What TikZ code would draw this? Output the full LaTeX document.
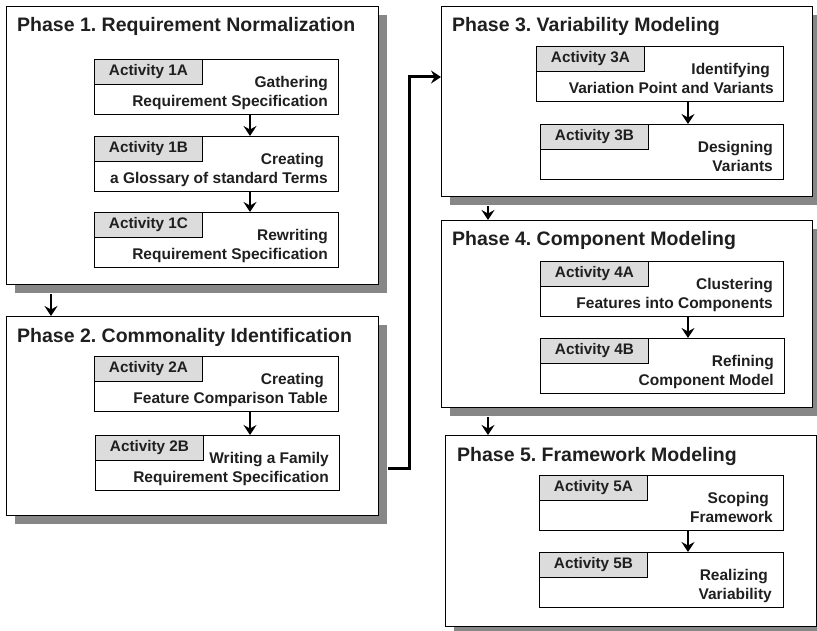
\documentclass[tikz,border=0pt]{standalone}
\usepackage{fontspec}
\setmainfont{Liberation Sans}
\frenchspacing
\usetikzlibrary{arrows.meta,shadows}
\definecolor{shadowgray}{RGB}{135,135,135}
\definecolor{tabgray}{RGB}{220,220,220}
\tikzset{
  phase/.style={draw, line width=1.3pt, fill=white, anchor=north west, inner sep=0,
    drop shadow={shadow xshift=8pt, shadow yshift=-8pt, fill=shadowgray, opacity=1}},
  phasetitle/.style={anchor=base west, inner sep=0, font=\fontsize{19.5}{22}\selectfont\bfseries, text=black!88},
  actbox/.style={draw, line width=1pt, fill=white, anchor=north west, inner sep=0,
    minimum width=244pt, minimum height=55pt},
  acttab/.style={draw, line width=1pt, fill=tabgray, anchor=north west, inner sep=0,
    minimum width=108pt, minimum height=25pt, font=\fontsize{15.3}{18}\selectfont\bfseries, text=black!88},
  acttext/.style={anchor=north east, inner sep=0, align=right,
    font=\fontsize{15.5}{19}\selectfont\bfseries, text=black!88},
  flow/.style={line width=2.6pt, -{Stealth[length=10pt,width=13pt,inset=3.5pt]}},
  longflow/.style={line width=3pt, -{Stealth[length=10pt,width=13pt,inset=3.5pt]}}
}
\begin{document}
\begin{tikzpicture}[x=1pt,y=-1pt]
\useasboundingbox (0,0) rectangle (817,631);
% phases
\node[phase, minimum width=372pt, minimum height=278pt] (p1) at (6,6) {};
\node[phase, minimum width=372pt, minimum height=199pt] (p2) at (6,316) {};
\node[phase, minimum width=371pt, minimum height=190pt] (p3) at (441,6) {};
\node[phase, minimum width=371pt, minimum height=187pt] (p4) at (441,220) {};
\node[phase, minimum width=371pt, minimum height=191pt] (p5) at (445,435) {};
\node[phasetitle] (t1) at ([xshift=11pt,yshift=-26pt]p1.north west) {Phase 1. Requirement Normalization};
\node[phasetitle] (t2) at ([xshift=11pt,yshift=-26pt]p2.north west) {Phase 2. Commonality Identification};
\node[phasetitle] (t3) at ([xshift=11pt,yshift=-26pt]p3.north west) {Phase 3. Variability Modeling};
\node[phasetitle] (t4) at ([xshift=11pt,yshift=-26pt]p4.north west) {Phase 4. Component Modeling};
\node[phasetitle] (t5) at ([xshift=12pt,yshift=-26pt]p5.north west) {Phase 5. Framework Modeling};
% activities
\node[actbox] (a1a) at (94,59) {};
\node[actbox] (a1b) at (94,136) {};
\node[actbox] (a1c) at (94,212) {};
\node[actbox] (a2a) at (94,356) {};
\node[actbox] (a2b) at (95,435) {};
\node[actbox, minimum width=247pt] (a3a) at (536,46) {};
\node[actbox, minimum width=243pt] (a3b) at (540,124) {};
\node[actbox, minimum width=243pt] (a4a) at (540,261) {};
\node[actbox] (a4b) at (540,338) {};
\node[actbox] (a5a) at (539,475) {};
\node[actbox] (a5b) at (539,552) {};
\node[acttab] (l1a) at (a1a.north west) {Activity 1A};
\node[acttab] (l1b) at (a1b.north west) {Activity 1B};
\node[acttab] (l1c) at (a1c.north west) {Activity 1C};
\node[acttab] (l2a) at (a2a.north west) {Activity 2A};
\node[acttab] (l2b) at (a2b.north west) {Activity 2B};
\node[acttab] (l3a) at (a3a.north west) {Activity 3A};
\node[acttab] (l3b) at (a3b.north west) {Activity 3B};
\node[acttab] (l4a) at (a4a.north west) {Activity 4A};
\node[acttab] (l4b) at (a4b.north west) {Activity 4B};
\node[acttab] (l5a) at (a5a.north west) {Activity 5A};
\node[acttab] (l5b) at (a5b.north west) {Activity 5B};
\node[acttext] (x1a) at ([xshift=-11pt,yshift=-17pt]a1a.north east) {Gathering\\Requirement Specification};
\node[acttext] (x1b) at ([xshift=-11pt,yshift=-17pt]a1b.north east) {Creating\hspace*{4pt}\\a Glossary of standard Terms};
\node[acttext] (x1c) at ([xshift=-11pt,yshift=-17pt]a1c.north east) {Rewriting\\Requirement Specification};
\node[acttext] (x2a) at ([xshift=-11pt,yshift=-17pt]a2a.north east) {Creating\hspace*{4pt}\\Feature Comparison Table};
\node[acttext] (x2b) at ([xshift=-11pt,yshift=-17pt]a2b.north east) {Writing a Family\\Requirement Specification};
\node[acttext] (x3a) at ([xshift=-10pt,yshift=-17pt]a3a.north east) {Identifying\hspace*{4pt}\\Variation Point and Variants};
\node[acttext] (x3b) at ([xshift=-11pt,yshift=-17pt]a3b.north east) {Designing\\Variants};
\node[acttext] (x4a) at ([xshift=-11pt,yshift=-17pt]a4a.north east) {Clustering\\Features into Components};
\node[acttext] (x4b) at ([xshift=-11pt,yshift=-17pt]a4b.north east) {Refining\\Component Model};
\node[acttext] (x5a) at ([xshift=-11pt,yshift=-17pt]a5a.north east) {Scoping\hspace*{4pt}\\Framework};
\node[acttext] (x5b) at ([xshift=-12pt,yshift=-17pt]a5b.north east) {Realizing\hspace*{4pt}\\Variability};
% arrows
\draw[flow] ([xshift=156pt]a1a.south west) -- ([xshift=156pt]a1b.north west);
\draw[flow] ([xshift=156pt]a1b.south west) -- ([xshift=156pt]a1c.north west);
\draw[flow] ([xshift=156pt]a2a.south west) -- ([xshift=155pt]a2b.north west);
\draw[flow] ([xshift=152pt]a3a.south west) -- ([xshift=148pt]a3b.north west);
\draw[flow] ([xshift=148pt]a4a.south west) -- ([xshift=148pt]a4b.north west);
\draw[flow] ([xshift=149pt]a5a.south west) -- ([xshift=149pt]a5b.north west);
\draw[flow] ([xshift=45pt,yshift=-9pt]p1.south west) -- ([xshift=45pt]p2.north west);
\draw[flow] ([xshift=47pt,yshift=-9pt]p3.south west) -- ([xshift=47pt]p4.north west);
\draw[flow] ([xshift=47pt,yshift=-9pt]p4.south west) -- ([xshift=43pt]p5.north west);
\draw[longflow] ([xshift=9pt,yshift=48pt]p2.south east) -- ++(21,0) |- ([yshift=-71pt]p3.north west);
\end{tikzpicture}
\end{document}
